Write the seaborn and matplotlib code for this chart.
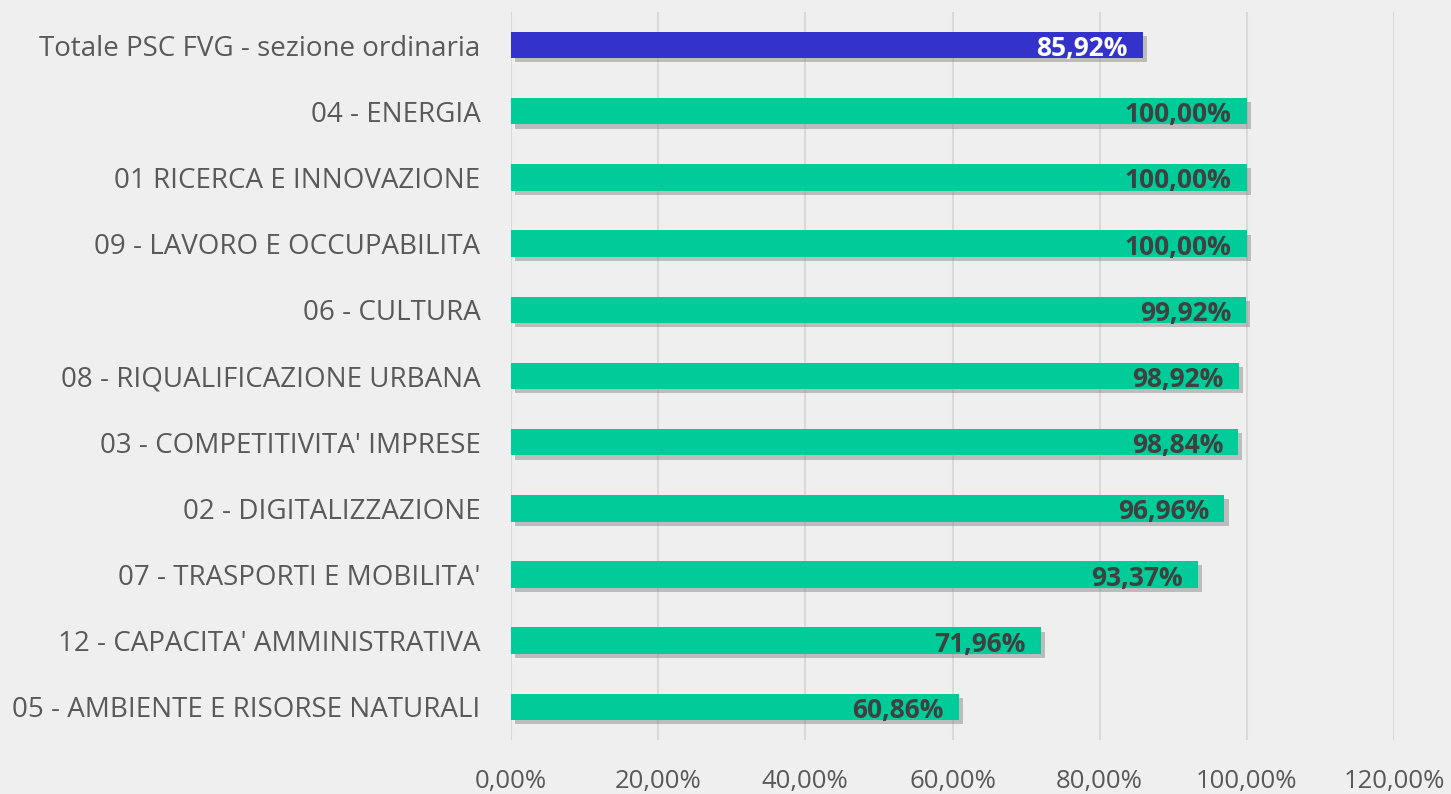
import matplotlib
matplotlib.use("Agg")
import matplotlib.pyplot as plt
import matplotlib.patheffects as pe
import seaborn as sns
import pandas as pd

categories = [
    "Totale PSC FVG - sezione ordinaria",
    "04 - ENERGIA",
    "01 RICERCA E INNOVAZIONE",
    "09 - LAVORO E OCCUPABILITA",
    "06 - CULTURA",
    "08 - RIQUALIFICAZIONE URBANA",
    "03 - COMPETITIVITA' IMPRESE",
    "02 - DIGITALIZZAZIONE",
    "07 - TRASPORTI E MOBILITA'",
    "12 - CAPACITA' AMMINISTRATIVA",
    "05 - AMBIENTE E RISORSE NATURALI",
]
values = [85.92, 100.00, 100.00, 100.00, 99.92, 98.92, 98.84, 96.96, 93.37, 71.96, 60.86]
xticks = [0, 20, 40, 60, 80, 100, 120]

df = pd.DataFrame({"cat": categories, "val": values})
colors = ["#3333CC"] + ["#00CC99"] * (len(categories) - 1)

sns.set_theme(style="white")
plt.rcParams["font.family"] = ["Open Sans", "DejaVu Sans"]

fig = plt.figure(figsize=(14.51, 7.94), dpi=100, facecolor="#EFEFEF")
ax = fig.add_axes([0.3522, 0.068, 0.6085, 0.917])
ax.set_facecolor("#EFEFEF")

sns.barplot(data=df, y="cat", x="val", hue="cat", palette=colors, legend=False,
            orient="h", width=0.4, ax=ax, saturation=1, linewidth=0)

for p in ax.patches:
    p.set_linewidth(0)
    p.set_path_effects([pe.SimplePatchShadow(offset=(3, -3), shadow_rgbFace="#7F7F7F", alpha=0.45), pe.Normal()])
    p.set_zorder(3)

for i, v in enumerate(values):
    txt = f"{v:.2f}".replace(".", ",") + "%"
    ax.annotate(txt, xy=(v, i), xytext=(-11, -2.5), textcoords="offset points",
                ha="right", va="center", fontsize=19, fontweight="bold",
                color="white" if i == 0 else "#404040", zorder=5)

ax.set_xlim(0, 120)
ax.set_ylim(len(categories) - 0.5, -0.5)
ax.set_xticks(xticks)
ax.set_xticklabels([f"{t:.2f}".replace(".", ",") + "%" for t in xticks])
ax.grid(axis="x", color="#D9D9D9", linewidth=1.5, zorder=0)
ax.set_axisbelow(True)
ax.tick_params(axis="x", length=0, pad=21, labelsize=18.5, labelcolor="#595959")
ax.tick_params(axis="y", length=0, pad=22, labelsize=20, labelcolor="#595959")
ax.set_xlabel("")
ax.set_ylabel("")
for s in ax.spines.values():
    s.set_visible(False)

fig.savefig("out.png", dpi=100, facecolor="#EFEFEF")
